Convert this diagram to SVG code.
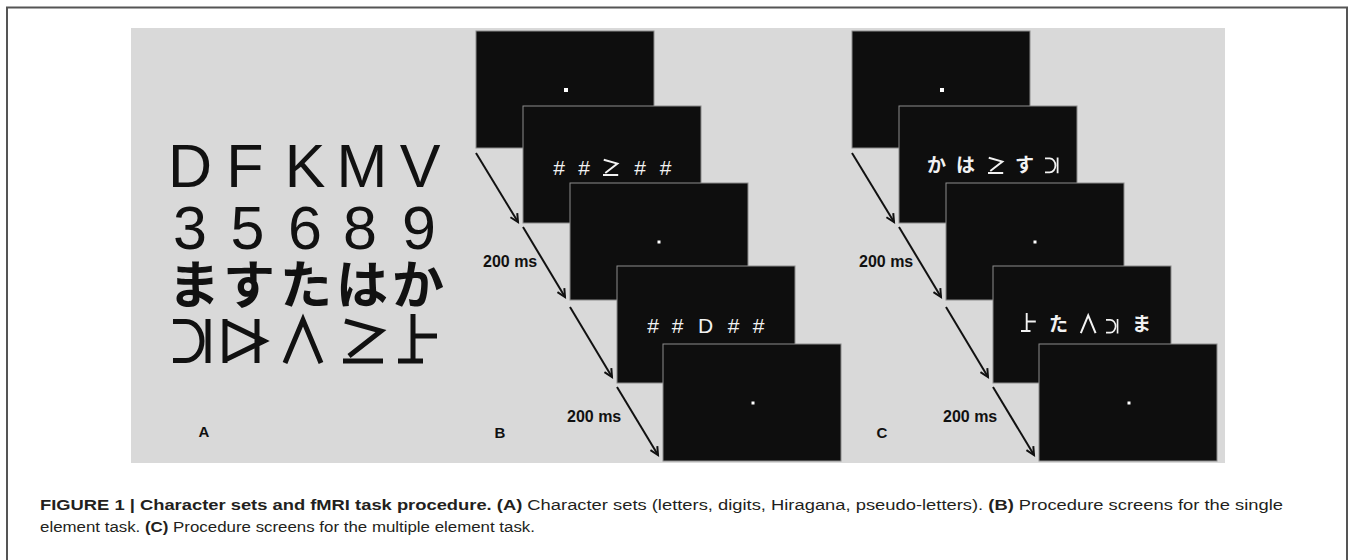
<svg xmlns="http://www.w3.org/2000/svg" xmlns:xlink="http://www.w3.org/1999/xlink" width="1349" height="560" viewBox="0 0 1349 560">
<defs>
<style>
.scr{fill:#0e0e0e;stroke:#8c8c8c;stroke-width:1}
.dot{fill:#fff}
.arr{stroke:#111;stroke-width:2;fill:none;marker-end:url(#ah)}
.big{font-family:"Liberation Sans",Arial,sans-serif;font-size:61px;fill:#111;text-anchor:middle}
.kana{font-family:"Noto Sans CJK JP",sans-serif;font-weight:700;font-size:52px;fill:#111;text-anchor:middle}
.pl{stroke:#111;stroke-width:5;fill:none}
.pw{stroke:#f2f2f2;stroke-width:5;fill:none}
.st{font-family:"Liberation Sans",Arial,sans-serif;font-size:21px;fill:#f2f2f2;text-anchor:middle}
.sk{font-family:"Noto Sans CJK JP",sans-serif;font-weight:700;font-size:19px;fill:#f2f2f2;text-anchor:middle}
.ms{font-family:"Liberation Sans",Arial,sans-serif;font-weight:700;font-size:16px;fill:#111}
.lbl{font-family:"Liberation Sans",Arial,sans-serif;font-weight:700;font-size:15px;fill:#111;text-anchor:middle}
.cap{font-family:"Liberation Sans",Arial,sans-serif;font-size:15.5px;fill:#231f20}
.b{font-weight:700}
</style>
<marker id="ah" markerUnits="userSpaceOnUse" markerWidth="12" markerHeight="12" refX="9" refY="5" orient="auto">
<path d="M1,1 L9,5 L1,9" stroke="#111" stroke-width="2" fill="none"/>
</marker>
<g id="p1"><path d="M0,2.5 H13 A16,19.5 0 0 1 13,41.5 H0 M35,0 V44"/></g>
<g id="p2"><path d="M3,0 V44 M35,0 V44 M3,3 L42,22 L3,41"/></g>
<g id="p3"><path d="M2,44 L20,1 L38,44"/></g>
<g id="p4"><path d="M2,2 L38,12 L6,37 M0,42 H40"/></g>
<g id="p5"><path d="M15,-5 V42 M15,17 H39 M0,42 H25"/></g>
</defs>
<rect x="0" y="0" width="1349" height="560" fill="#fff"/>
<path d="M7,565 V7.5 H1347 V565" fill="none" stroke="#555" stroke-width="2"/>
<rect x="131" y="28" width="1094" height="435" fill="#d9d9d9"/>

<g id="panelA">
<g class="big">
<text x="190" y="187">D</text><text x="245" y="187">F</text><text x="305" y="187">K</text><text x="362" y="187">M</text><text x="420" y="187">V</text>
<text x="190" y="249">3</text><text x="247.5" y="249">5</text><text x="305" y="249">6</text><text x="360" y="249">8</text><text x="419" y="249">9</text>
</g>
<g class="kana">
<text x="194" y="304">ま</text><text x="249" y="304">す</text><text x="306" y="304">た</text><text x="362" y="304">は</text><text x="418" y="304">か</text>
</g>
<g class="pl">
<use xlink:href="#p1" transform="translate(173,319)"/>
<use xlink:href="#p2" transform="translate(222,319)"/>
<use xlink:href="#p3" transform="translate(283,319)"/>
<use xlink:href="#p4" transform="translate(343,319)"/>
<use xlink:href="#p5" transform="translate(398,319)"/>
</g>
<text class="lbl" x="204" y="437">A</text>
</g>

<g id="panelB">
<g id="B1"><rect class="scr" x="476" y="31" width="178" height="117"/><rect class="dot" x="564" y="88" width="4" height="4"/></g>
<g id="B2"><rect class="scr" x="523" y="106" width="178" height="117"/>
<text class="st" x="559" y="175">#</text><text class="st" x="584" y="175">#</text>
<use class="pw" xlink:href="#p4" transform="translate(603,159) scale(0.38)"/>
<text class="st" x="640" y="175">#</text><text class="st" x="665.5" y="175">#</text></g>
<g id="B3"><rect class="scr" x="570" y="183" width="178" height="117"/><rect class="dot" x="657.5" y="240.5" width="3" height="3"/></g>
<g id="B4"><rect class="scr" x="617" y="266" width="178" height="117"/>
<text class="st" x="653" y="333">#</text><text class="st" x="677.5" y="333">#</text><text class="st" x="705.5" y="333">D</text><text class="st" x="733.5" y="333">#</text><text class="st" x="758.5" y="333">#</text></g>
<g id="B5"><rect class="scr" x="663" y="344" width="178" height="117"/><rect class="dot" x="751.5" y="401.5" width="3" height="3"/></g>
<text class="ms" x="483" y="267">200 ms</text>
<text class="ms" x="567" y="422">200 ms</text>
<text class="lbl" x="500" y="438">B</text>
</g>

<g id="panelC">
<g id="C1"><rect class="scr" x="852" y="31" width="178" height="117"/><rect class="dot" x="940" y="88" width="4" height="4"/></g>
<g id="C2"><rect class="scr" x="899" y="106" width="178" height="117"/>
<text class="sk" x="936.5" y="172">か</text><text class="sk" x="965.5" y="172">は</text>
<use class="pw" xlink:href="#p4" transform="translate(988,157) scale(0.38)"/>
<text class="sk" x="1024.5" y="172">す</text>
<use class="pw" xlink:href="#p1" transform="translate(1045,157.5) scale(0.36)"/></g>
<g id="C3"><rect class="scr" x="946" y="183" width="178" height="117"/><rect class="dot" x="1033.5" y="240.5" width="3" height="3"/></g>
<g id="C4"><rect class="scr" x="993" y="266" width="178" height="117"/>
<use class="pw" xlink:href="#p5" transform="translate(1021,315) scale(0.38)"/>
<text class="sk" x="1058.5" y="331">た</text>
<use class="pw" xlink:href="#p3" transform="translate(1080,315) scale(0.41)"/>
<use class="pw" xlink:href="#p1" transform="translate(1106,319) scale(0.33)"/>
<text class="sk" x="1141.5" y="331">ま</text></g>
<g id="C5"><rect class="scr" x="1039" y="344" width="178" height="117"/><rect class="dot" x="1127.5" y="401.5" width="3" height="3"/></g>
<text class="ms" x="859" y="267">200 ms</text>
<text class="ms" x="943" y="422">200 ms</text>
<text class="lbl" x="882" y="438">C</text>
</g>

<g id="connectors">
<line class="arr" x1="476" y1="153" x2="518" y2="222"/>
<line class="arr" x1="523" y1="227" x2="565" y2="297"/>
<line class="arr" x1="570" y1="307" x2="612" y2="377"/>
<line class="arr" x1="617" y1="387" x2="658" y2="455"/>
<line class="arr" x1="852" y1="153" x2="894" y2="222"/>
<line class="arr" x1="899" y1="227" x2="941" y2="297"/>
<line class="arr" x1="946" y1="307" x2="988" y2="377"/>
<line class="arr" x1="993" y1="387" x2="1034" y2="455"/>
</g>

<g id="caption" class="cap">
<text x="40" y="510" textLength="1243" lengthAdjust="spacingAndGlyphs"><tspan class="b">FIGURE 1 | Character sets and fMRI task procedure. (A)</tspan> Character sets (letters, digits, Hiragana, pseudo-letters). <tspan class="b">(B)</tspan> Procedure screens for the single</text>
<text x="40" y="532" textLength="495" lengthAdjust="spacingAndGlyphs">element task. <tspan class="b">(C)</tspan> Procedure screens for the multiple element task.</text>
</g>
</svg>
